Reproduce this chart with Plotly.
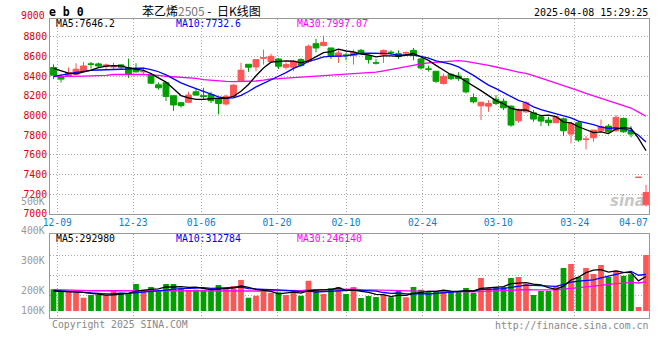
import plotly.graph_objects as go
import pandas as pd

W, H = 660, 360

# ---------------- data ----------------
open_ = [8489, 8398, 8404, 8421, 8451, 8526, 8526, 8499, 8495, 8516,
         8489, 8478, 8445, 8418, 8313, 8334, 8202, 8131, 8135, 8242,
         8202, 8215, 8168, 8118, 8192, 8354, 8522, 8495, 8583, 8549,
         8576, 8492, 8492, 8570, 8553, 8732, 8712, 8688, 8603, 8617,
         8610, 8664, 8610, 8538, 8620, 8646, 8630, 8637, 8664, 8576,
         8475, 8451, 8326, 8420, 8403, 8376, 8184, 8099, 8096, 8167,
         8146, 8096, 7947, 8038, 8028, 7987, 7954, 7927, 7967, 7812,
         7927, 7756, 7774, 7845, 7893, 7845, 7971, 7839, 7370, 7091]
high = [8522, 8421, 8489, 8532, 8546, 8546, 8539, 8529, 8539, 8522,
        8580, 8532, 8489, 8431, 8337, 8334, 8202, 8141, 8242, 8276,
        8283, 8242, 8168, 8215, 8317, 8539, 8522, 8570, 8671, 8630,
        8586, 8542, 8563, 8586, 8722, 8783, 8814, 8688, 8664, 8637,
        8671, 8678, 8620, 8576, 8671, 8664, 8664, 8654, 8688, 8586,
        8509, 8451, 8427, 8434, 8441, 8380, 8224, 8136, 8157, 8207,
        8173, 8106, 8072, 8146, 8055, 8004, 7987, 7994, 7981, 7937,
        7944, 7791, 7852, 7960, 7913, 8004, 7981, 7893, 7372, 7294]
low = [8371, 8337, 8398, 8411, 8445, 8478, 8485, 8472, 8465, 8465,
       8384, 8438, 8421, 8320, 8263, 8148, 8047, 8081, 8128, 8202,
       8168, 8128, 8013, 8101, 8185, 8354, 8445, 8451, 8519, 8536,
       8475, 8468, 8451, 8495, 8536, 8644, 8705, 8576, 8536, 8563,
       8519, 8630, 8529, 8519, 8536, 8620, 8576, 8610, 8563, 8468,
       8448, 8332, 8315, 8360, 8353, 8224, 8123, 7954, 8038, 8106,
       8055, 7886, 7927, 8028, 7937, 7893, 7893, 7927, 7791, 7717,
       7734, 7656, 7734, 7835, 7825, 7835, 7825, 7778, 7370, 7074]
close = [8411, 8371, 8438, 8472, 8505, 8522, 8505, 8516, 8499, 8492,
         8421, 8445, 8448, 8330, 8283, 8195, 8108, 8101, 8209, 8209,
         8195, 8151, 8124, 8195, 8310, 8462, 8492, 8570, 8590, 8603,
         8502, 8519, 8553, 8509, 8705, 8688, 8746, 8603, 8637, 8613,
         8644, 8630, 8570, 8534, 8664, 8642, 8603, 8640, 8610, 8485,
         8472, 8349, 8400, 8375, 8376, 8241, 8140, 8136, 8123, 8123,
         8079, 7903, 8055, 8130, 7964, 7944, 7927, 7987, 7845, 7920,
         7751, 7760, 7852, 7886, 7835, 7981, 7835, 7812, 7372, 7216]
volume = [184000, 170000, 170000, 156000, 113000, 136000, 136000, 136000, 170000, 156000,
          150000, 230000, 181000, 204000, 176000, 230000, 230000, 193000, 178000, 181000,
          181000, 170000, 221000, 196000, 212000, 264000, 113000, 130000, 170000, 156000,
          159000, 136000, 178000, 130000, 258000, 187000, 145000, 193000, 204000, 145000,
          204000, 110000, 128000, 119000, 136000, 116000, 173000, 116000, 204000, 181000,
          162000, 170000, 170000, 162000, 170000, 196000, 153000, 281000, 196000, 204000,
          204000, 281000, 289000, 230000, 136000, 170000, 170000, 212000, 366000, 400000,
          289000, 366000, 315000, 391000, 289000, 343000, 300000, 312000, 34000, 476000]

# moving-average values at the left edge (earlier history is off-chart)
ma5_head = [8480, 8455, 8432, 8425]
ma10_head = [8400, 8410, 8425, 8440, 8452, 8460, 8464, 8465, 8468]
ma30_head = [8396, 8396, 8398, 8400, 8402, 8404, 8406, 8410, 8418, 8420,
             8420, 8420, 8418, 8416, 8410, 8400, 8396, 8390, 8384, 8378,
             8366, 8358, 8352, 8348, 8346, 8346, 8348, 8352, 8360]
vma5_head = [170000, 167000, 163000, 160000]
vma10_head = [176000, 172000, 166000, 160000, 155000, 150000, 147000, 146000, 148000]
vma30_head = [182000, 180000] + [172000] * 9 + [168000] * 12 + [170000] * 6

tick_labels = ["12-09", "12-23", "01-06", "01-20", "02-10", "02-24", "03-10", "03-24"]
tick_pos = [0.5, 10.6, 19.7, 29.8, 39.0, 49.2, 59.3, 69.5]
last_label = "04-07"
price_ticks = [7000, 7200, 7400, 7600, 7800, 8000, 8200, 8400, 8600, 8800]
vol_labels = ["500K", "400K", "300K", "200K", "100K"]

ma_price_text = ["MA5:7646.2", "MA10:7732.6", "MA30:7997.07"]
ma_vol_text = ["MA5:292980", "MA10:312784", "MA30:246140"]

# ---------------- derived ----------------
x = list(range(len(close)))


def moving(values, n, head):
    s = pd.Series(values, dtype=float).rolling(n).mean()
    s.iloc[:len(head)] = head
    return s.tolist()


ma5 = moving(close, 5, ma5_head)
ma10 = moving(close, 10, ma10_head)
ma30 = moving(close, 30, ma30_head)
vma5 = moving(volume, 5, vma5_head)
vma10 = moving(volume, 10, vma10_head)
vma30 = moving(volume, 30, vma30_head)

RED = "#ff5555"
GREEN = "#00a000"
vol_colors = [RED if c > o else GREEN for o, c in zip(open_, close)]

X0, X1 = 50, 649
def py(p):
    return 1 - p / H
def px(p):
    return p / W

fig = go.Figure()

fig.add_trace(go.Candlestick(
    x=x, open=open_, high=high, low=low, close=close,
    increasing=dict(line=dict(color=RED, width=1), fillcolor=RED),
    decreasing=dict(line=dict(color=GREEN, width=1), fillcolor=GREEN),
    whiskerwidth=0, xaxis="x", yaxis="y", showlegend=False, hoverinfo="skip"))

for ser, col in [(ma30, "#ff00ff"), (ma10, "#0000ff"), (ma5, "#000000")]:
    fig.add_trace(go.Scatter(x=x, y=ser, mode="lines", line=dict(color=col, width=1.3),
                             xaxis="x", yaxis="y", showlegend=False, hoverinfo="skip"))

fig.add_trace(go.Bar(x=x, y=volume, marker=dict(color=vol_colors, line=dict(width=0)),
                     xaxis="x2", yaxis="y2", showlegend=False, hoverinfo="skip"))
for ser, col in [(vma30, "#ff00ff"), (vma10, "#0000ff"), (vma5, "#000000")]:
    fig.add_trace(go.Scatter(x=x, y=ser, mode="lines", line=dict(color=col, width=1.3),
                             xaxis="x2", yaxis="y2", showlegend=False, hoverinfo="skip"))

xr = [(X0 - 53.5) / 7.5, (X1 - 53.5) / 7.5]
grid = dict(showgrid=True, gridcolor="#aaaaaa", griddash="1px,2px", gridwidth=1)
frame = dict(ticks="", showline=True, linecolor="#999999", linewidth=1, mirror=True,
             zeroline=False, automargin=False)
mono = "DejaVu Sans Mono"

fig.update_layout(
    width=W, height=H, margin=dict(l=0, r=0, t=0, b=0, autoexpand=False),
    paper_bgcolor="white", plot_bgcolor="white",
    boxgap=0.22, boxgroupgap=0, bargap=0.24,
    xaxis=dict(domain=[px(X0), px(X1)], range=xr, anchor="y",
               tickmode="array", tickvals=tick_pos, ticktext=tick_labels,
               tickfont=dict(family=mono, size=9.6, color="#0a7fd2"),
               rangeslider=dict(visible=False), **frame, **grid),
    yaxis=dict(domain=[py(213.8), py(19.3)], range=[7000, 8980], anchor="x",
               tickmode="array", tickvals=price_ticks, ticktext=[str(v) for v in price_ticks],
               tickfont=dict(family=mono, size=9.8, color="#e00000"),
               **frame, **grid),
    xaxis2=dict(domain=[px(X0), px(X1)], range=xr, anchor="y2", matches="x",
                tickmode="array", tickvals=tick_pos, showticklabels=False,
                **frame, **grid),
    yaxis2=dict(domain=[py(318.3), py(234.3)], range=[-62050, 651950], anchor="x2",
                tickmode="array", tickvals=[133450, 300050, 476000], showticklabels=False,
                **frame, **grid),
)

anns = []
def ann(text, x_px, y_px, color="#000000", size=9.8, xanchor="left", family=mono, **kw):
    anns.append(dict(text=text, x=px(x_px), y=py(y_px), xref="paper", yref="paper",
                     xanchor=xanchor, yanchor="middle", showarrow=False,
                     font=dict(family=family, size=size, color=color), **kw))

ann("<b>e b 0</b>", 47, 11.5, size=11.5)
ann('苯乙烯<span style="color:#777777">2505</span> -  日K线图', 140, 10.5, size=12,
    family="Noto Sans CJK SC")
ann("2025-04-08 15:29:25", 650, 12.2, size=10, xanchor="right")
ann("9000", 47, 15.7, color="#e00000", xanchor="right")
ann(last_label, 649.5, 222.5, color="#0a7fd2", size=9.6, xanchor="right")

for t, xx, col in zip(ma_price_text, [54, 173.5, 294.5], ["#000000", "#0000ff", "#ff00ff"]):
    ann(t, xx, 24, color=col)
for t, xx, col in zip(ma_vol_text, [54, 173.5, 294.5], ["#000000", "#0000ff", "#ff00ff"]):
    ann(t, xx, 238.5, color=col)
for t, yy in zip(vol_labels, [201, 230.7, 260.7, 290, 310.7]):
    ann(t, 47, yy, color="#999999", xanchor="right")

ann("Copyright 2025 SINA.COM", 49.5, 324, color="#888888")
ann("http://finance.sina.com.cn", 650, 325, color="#888888", xanchor="right")
ann("<b><i>sina</i></b>", 647, 201, color="rgba(150,150,150,0.55)", size=15,
    xanchor="right", family="DejaVu Sans")

fig.update_layout(annotations=anns)
# remove the browser's default 8px body margin so the figure sits at the page origin
fig.write_html("out.html", config={"displayModeBar": False, "staticPlot": True},
               post_script="document.body.style.margin='0px';")
